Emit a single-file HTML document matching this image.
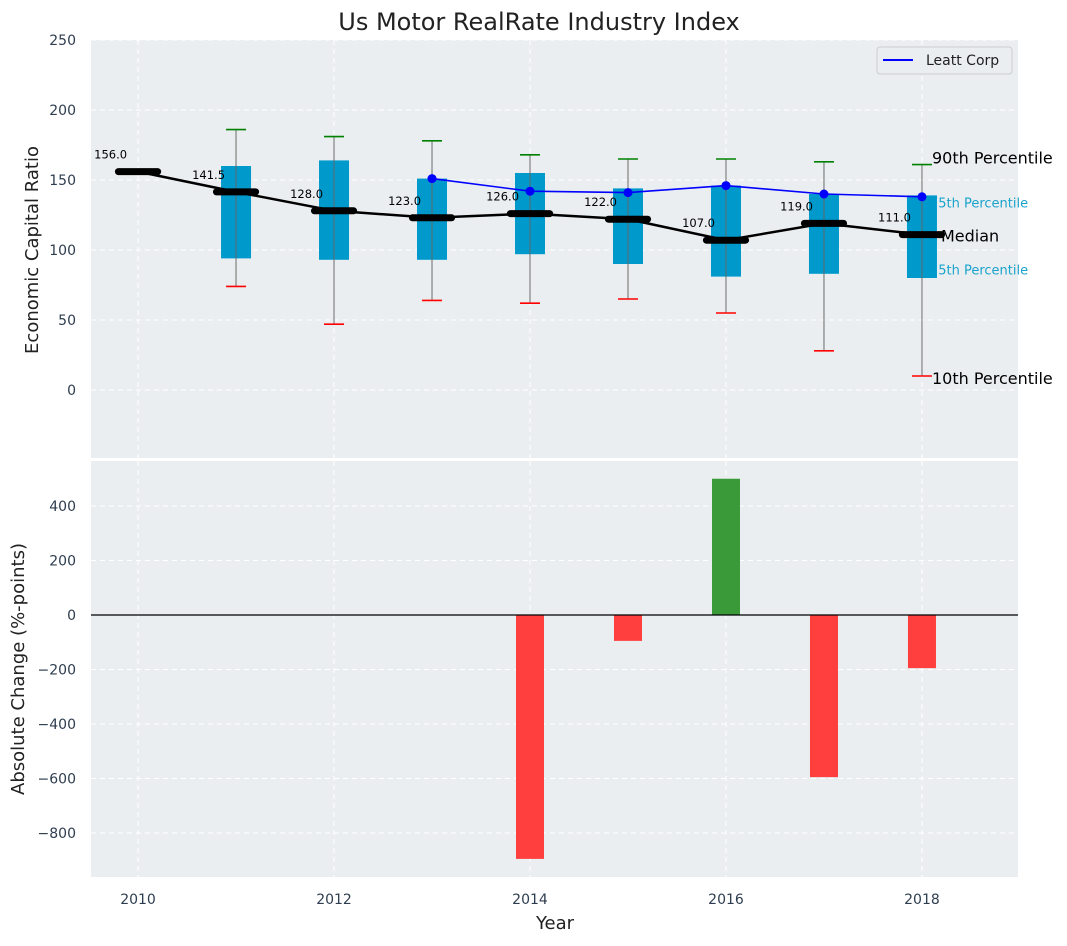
<!DOCTYPE html>
<html><head><meta charset="utf-8"><style>
body{margin:0;background:#fff;font-family:"DejaVu Sans","Liberation Sans",sans-serif}
svg text{font-family:"DejaVu Sans","Liberation Sans",sans-serif}
</style></head><body>
<svg id="c" width="1067" height="942" xmlns="http://www.w3.org/2000/svg"></svg>
<script>
const years=[2010,2011,2012,2013,2014,2015,2016,2017,2018];
const medians=[156,141.5,128,123,126,122,107,119,111];
const boxYears=[2011,2012,2013,2014,2015,2016,2017,2018];
const q1=[94,93,93,97,90,81,83,80];
const q3=[160,164,151,155,144,146,140,139];
const p10=[74,47,64,62,65,55,28,10];
const p90=[186,181,178,168,165,165,163,161];
const leattYears=[2013,2014,2015,2016,2017,2018];
const leatt=[151,142,141,146,140,138];
const changeYears=[2014,2015,2016,2017,2018];
const changes=[-895,-95,500,-595,-195];
const topTicks=[0,50,100,150,200,250];
const botTicks=[-800,-600,-400,-200,0,200,400];
const xTicks=[2010,2012,2014,2016,2018];

const NS="http://www.w3.org/2000/svg";
const svg=document.getElementById('c');
const L=91,R=1018;
const X=v=>L+(v-2009.52)/(2018.98-2009.52)*(R-L);
const Y1=v=>390-v*1.4;
const Y2=v=>615-v*0.2725;
function el(tag,a,parent){const e=document.createElementNS(NS,tag);for(const k in a)e.setAttribute(k,a[k]);(parent||svg).appendChild(e);return e;}
function tx(s,a){const e=el('text',a);e.textContent=s;return e;}
const fmt=t=>t<0?'\u2212'+Math.abs(t):String(t);

let p=el('rect',{x:L,y:40,width:R-L,height:418,fill:'#eaeef0'});

p=el('rect',{x:L,y:461,width:R-L,height:416,fill:'#eaeef0'});


topTicks.forEach(t=>{const y=Y1(t);
 let g=el('line',{x1:L,x2:R,y1:y,y2:y,stroke:'#fff','stroke-dasharray':'5,4','stroke-width':1});
 
 let t1=tx(fmt(t),{x:76,y:y+5,'text-anchor':'end','font-size':14,fill:'#2e3d4f'});
 });
botTicks.forEach(t=>{const y=Y2(t);
 let g=el('line',{x1:L,x2:R,y1:y,y2:y,stroke:'#fff','stroke-dasharray':'5,4','stroke-width':1});
 
 let t1=tx(fmt(t),{x:76,y:y+5,'text-anchor':'end','font-size':14,fill:'#2e3d4f'});
 });
xTicks.forEach(t=>{const x=X(t);
 let g=el('line',{x1:x,x2:x,y1:40,y2:458,stroke:'#fff','stroke-dasharray':'5,4'});
 
 g=el('line',{x1:x,x2:x,y1:461,y2:877,stroke:'#fff','stroke-dasharray':'5,4'});
 
 let t1=tx(String(t),{x:x,y:904,'text-anchor':'middle','font-size':14,fill:'#2e3d4f'});
 });

const last=boxYears.length-1, xr=X(2018)+10;
[["75th Percentile",q3[last]-5],["25th Percentile",q1[last]+6]].forEach(a=>{
 let t=tx(a[0],{x:X(2018)+8,y:Y1(a[1])+5,'font-size':13,fill:'#1aa3cc'});
 });

boxYears.forEach((yr,i)=>{const x=X(yr);
 let b=el('rect',{x:x-15,y:Y1(q3[i]),width:30,height:Y1(q1[i])-Y1(q3[i]),fill:'#0099cc'});
 
 let w=el('line',{x1:x,x2:x,y1:Y1(p90[i]),y2:Y1(p10[i]),stroke:'#666','stroke-width':1.2,opacity:0.8});
 
 let c=el('line',{x1:x-10,x2:x+10,y1:Y1(p90[i]),y2:Y1(p90[i]),stroke:'green','stroke-width':1.6});
 
 c=el('line',{x1:x-10,x2:x+10,y1:Y1(p10[i]),y2:Y1(p10[i]),stroke:'red','stroke-width':1.6});
 
});

let ml=el('polyline',{points:years.map((y,i)=>X(y)+','+Y1(medians[i])).join(' '),fill:'none',stroke:'#000','stroke-width':2.5});

years.forEach((yr,i)=>{const x=X(yr),y=Y1(medians[i]);
 let m=el('line',{x1:X(yr-0.2),x2:X(yr+0.2),y1:y,y2:y,stroke:'#000','stroke-width':7,'stroke-linecap':'round'});
 
 let t=tx(medians[i].toFixed(1),{x:X(yr-0.28),y:y-13,'text-anchor':'middle','font-size':11.5,fill:'#000'});
 });

[["90th Percentile",xr,Y1(p90[last])-1],["Median",X(2018)+19,Y1(medians[8])+7],["10th Percentile",xr,Y1(p10[last])+8]].forEach(a=>{
 let t=tx(a[0],{x:a[1],y:a[2],'font-size':16,fill:'#000'});
 });

let ll=el('polyline',{points:leattYears.map((y,i)=>X(y)+','+Y1(leatt[i])).join(' '),fill:'none',stroke:'#0000ff','stroke-width':1.6});

leattYears.forEach((yr,i)=>{let d=el('circle',{cx:X(yr),cy:Y1(leatt[i]),r:4.5,fill:'#0000ff'});
 });

let lg=el('g',{});
el('rect',{x:877,y:47,width:135,height:27,rx:3,fill:'#eaeef0',stroke:'#ccc'},lg);
el('line',{x1:883,x2:913,y1:60,y2:60,stroke:'#0000ff','stroke-width':2},lg);
let lt=el('text',{x:926,y:65,'font-size':14,fill:'#222'},lg);lt.textContent='Leatt Corp';

changeYears.forEach((yr,i)=>{const v=changes[i];
 let b=el('rect',{x:X(yr)-14,y:Math.min(Y2(v),Y2(0)),width:28,height:Math.abs(Y2(v)-Y2(0)),fill:v>=0?'#3a9a3a':'#ff3e3e'});
 });
let zl=el('line',{x1:L,x2:R,y1:Y2(0),y2:Y2(0),stroke:'#000','stroke-width':1.2});


let t=tx('Us Motor RealRate Industry Index',{x:539,y:30,'text-anchor':'middle','font-size':24,fill:'#222'});

t=tx('Economic Capital Ratio',{x:0,y:0,'text-anchor':'middle','font-size':18,fill:'#222',transform:'translate(38,250) rotate(-90)'});

t=tx('Absolute Change (%-points)',{x:0,y:0,'text-anchor':'middle','font-size':18,fill:'#222',transform:'translate(24,669) rotate(-90)'});

t=tx('Year',{x:555,y:929,'text-anchor':'middle','font-size':18,fill:'#222'});

</script>
</body></html>
